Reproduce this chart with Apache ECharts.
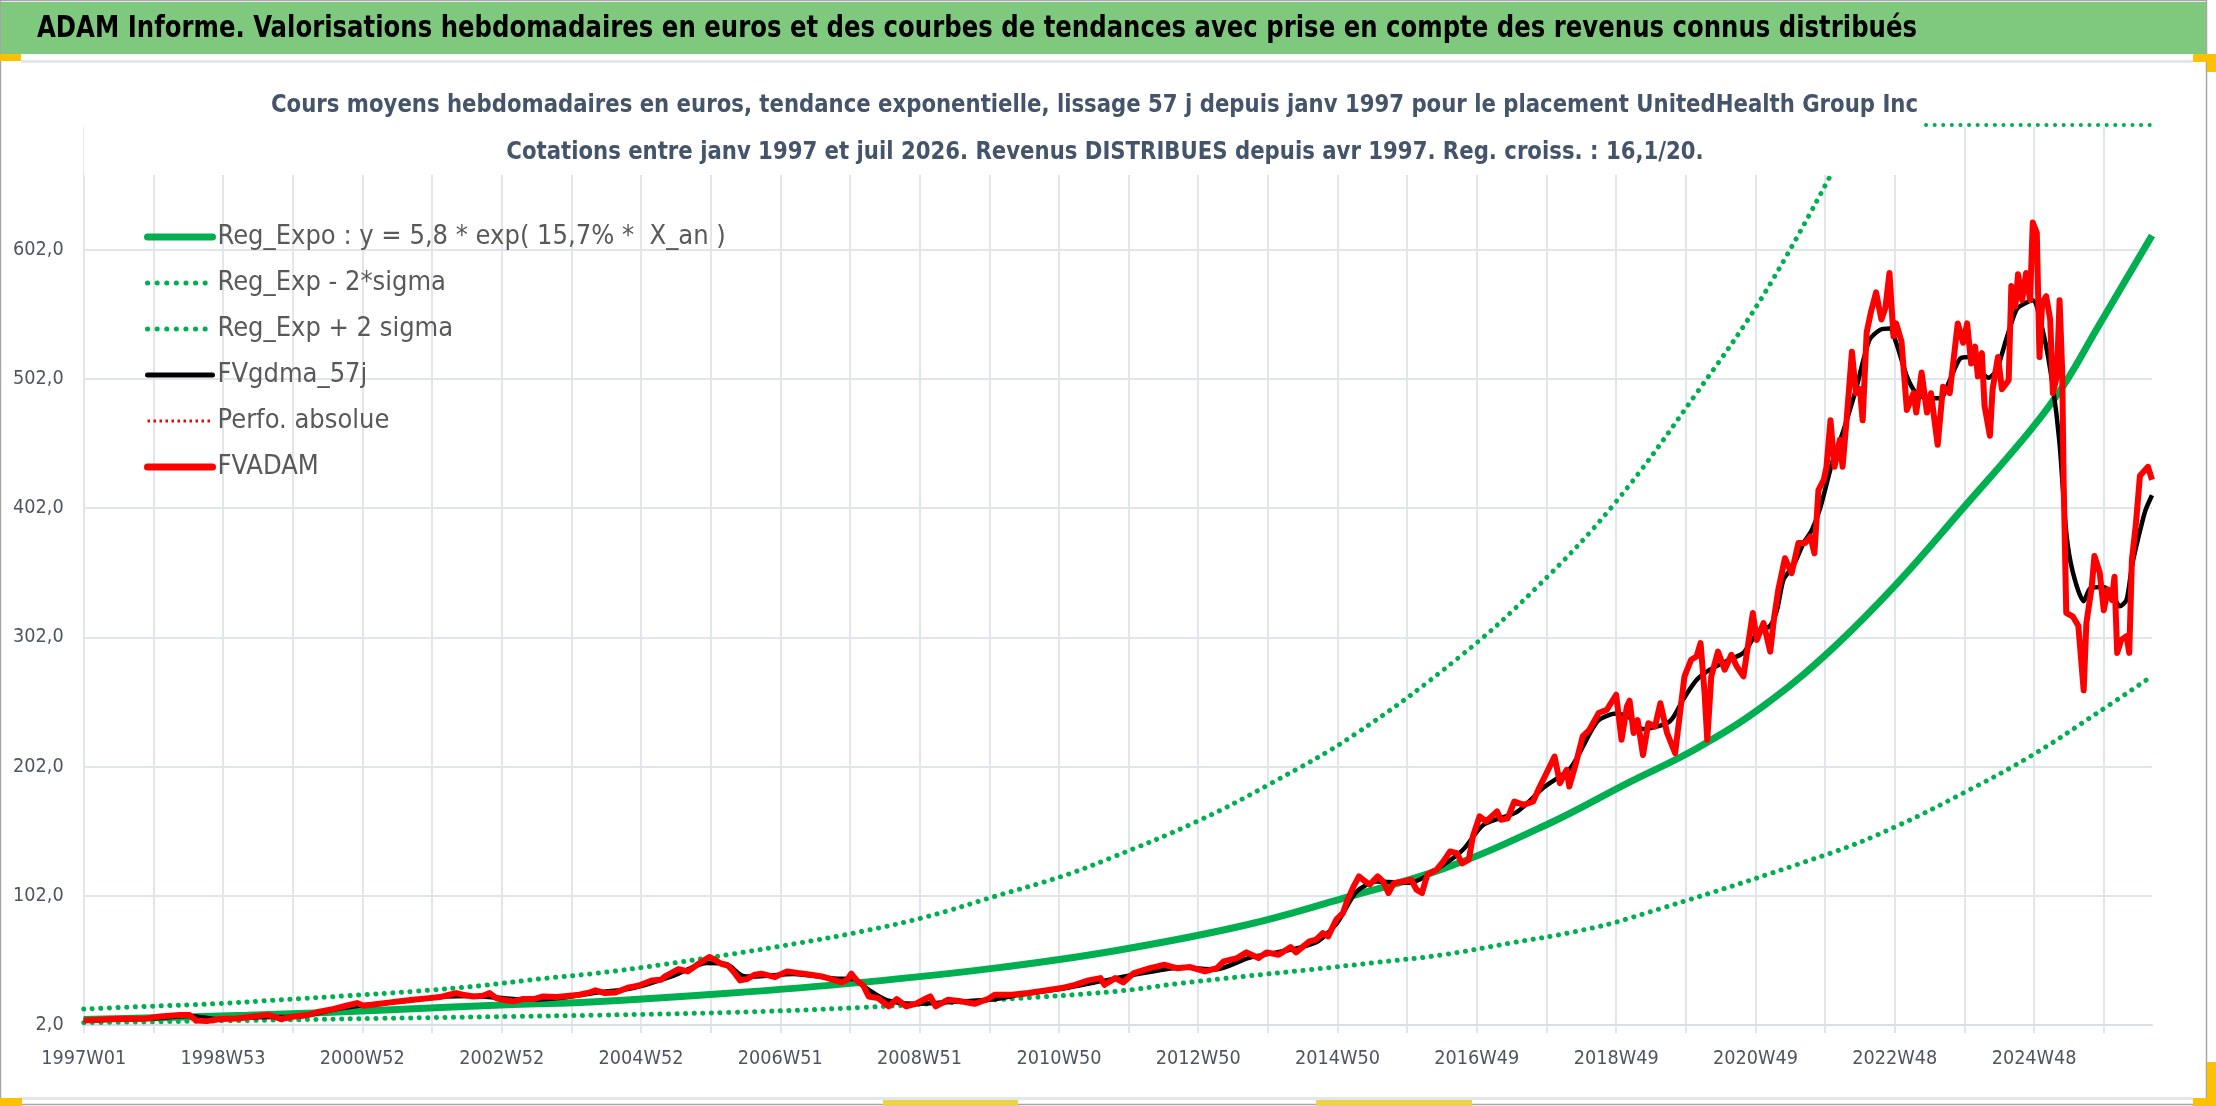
<!DOCTYPE html>
<html><head><meta charset="utf-8">
<script src="https://cdn.jsdelivr.net/npm/echarts@6/dist/echarts.min.js"></script>
<style>html,body{margin:0;padding:0;background:#fff;overflow:hidden}#c{width:2216px;height:1106px}</style>
</head><body><div id="c"></div>
<script>
// ---------- DATA ----------
const FIRST_WEEK_MONDAY = '1996-12-30'; // ISO 1997W01
const WEEK_COUNT = 1545;                // 1997W01 .. 2026W32
const yTicks = {min: 2, max: 697, interval: 100};

const headerTitle = 'ADAM Informe. Valorisations hebdomadaires en euros et des courbes de tendances avec prise en compte des revenus connus distribués';
const subTitle1 = 'Cours moyens hebdomadaires en euros, tendance exponentielle, lissage 57 j depuis janv 1997 pour le placement UnitedHealth Group Inc';
const subTitle2 = 'Cotations entre janv 1997 et juil 2026. Revenus DISTRIBUES depuis avr 1997. Reg. croiss. : 16,1/20.';
const seriesNames = ['Reg_Expo : y = 5,8 * exp( 15,7% *  X_an )', 'Reg_Exp - 2*sigma', 'Reg_Exp + 2 sigma', 'FVgdma_57j', 'Perfo. absolue', 'FVADAM'];

// [week index since 1997W01, value]
const regExpo = [[0,6.2],[122,9.5],[221,13.5],[321,17.8],[382,20.0],[481,26.5],[581,35],[680,46],[770,59.5],[866,79],[940,100],[1015,123],[1090,156],[1154,190],[1204,216],[1254,249],[1304,292],[1353,343],[1403,402],[1453,462],[1478,497],[1503,541],[1544,613]];
const regLow = [[0,3.8],[122,5.5],[221,7.1],[321,8.6],[384,9.6],[481,11.7],[581,15.6],[680,21.5],[770,28.0],[816,33.9],[866,39.6],[915,44.8],[965,50.4],[1015,56.4],[1065,65.4],[1114,74.4],[1154,84.7],[1304,135],[1353,155.7],[1403,181.5],[1453,209.8],[1503,243.4],[1544,272]];
const regHigh = [[0,14.3],[47,16.4],[97,18.4],[147,21.5],[196,24.6],[246,28.0],[296,32.4],[346,38.3],[384,42.2],[431,48.6],[481,56.4],[531,64.9],[581,74.4],[630,86.0],[680,101.5],[730,117],[766,131],[831,159.5],[887,189.4],[949,227],[1026,286],[1083,339],[1142,404.6],[1204,491],[1254,567],[1303,657.5]];
const fvgdma = [[0,5.5],[50,7],[80,9],[100,6.5],[130,8],[160,8.5],[190,14.5],[210,17.5],[240,20.5],[270,24],[290,24.5],[310,23],[330,21.5],[360,23.5],[382,27],[410,30.5],[440,40],[465,50],[480,49],[492,40],[500,39.5],[530,41.5],[560,38],[575,37.5],[585,30],[600,21],[620,18.5],[650,20],[680,22],[700,25.5],[730,30],[760,36],[790,42],[820,46.5],[845,45],[870,54],[900,60],[920,66],[935,80],[950,105],[965,113],[990,112],[1015,126],[1030,138],[1045,157],[1070,167],[1090,186],[1110,201],[1130,237],[1144,243],[1154,240],[1164,231],[1184,237],[1194,254],[1204,269],[1214,277],[1229,285],[1239,290],[1249,305],[1259,311],[1264,323],[1269,347],[1276,357],[1284,375],[1290,385],[1296,401],[1306,440],[1313,460],[1323,494],[1333,532],[1341,540],[1348,541],[1353,530],[1361,504],[1368,491],[1376,487],[1386,487],[1393,501],[1401,518],[1408,519],[1415,509],[1422,503],[1428,509],[1435,532],[1443,556],[1450,561],[1455,563],[1463,537],[1470,496],[1475,452],[1480,383],[1485,352],[1493,330],[1498,340],[1508,341],[1515,334],[1520,326],[1525,331],[1529,357],[1534,380],[1539,400],[1544,412]];
const perfoAbsolue = [];
const fvadam = [[0,5.5],[22,6.6],[47,7.1],[57,8.6],[72,9.7],[79,9.7],[84,5.5],[92,5.0],[102,6.6],[114,7.1],[127,8.6],[137,9.7],[142,8.6],[147,6.6],[157,8.6],[167,9.7],[176,12.3],[186,14.3],[196,16.9],[204,19.0],[209,16.9],[221,18.4],[229,19.5],[236,20.3],[246,21.5],[258,22.8],[266,23.6],[273,25.4],[278,26.7],[283,25.4],[291,24.1],[298,24.6],[303,26.7],[308,22.8],[313,21.5],[321,20.3],[328,22.1],[336,22.1],[343,24.1],[353,23.6],[363,24.6],[370,25.4],[378,27.2],[382,28.8],
[389,26.7],[397,27.2],[407,31.1],[414,32.4],[424,36.5],[431,37.0],[434,39.6],[444,45.3],[451,43.5],[459,49.4],[467,54.6],[471,52.5],[476,49.4],[481,47.9],[485,43.5],[490,36.5],[495,37.5],[501,40.9],[506,41.7],[516,39.1],[525,43.5],[533,42.2],[543,40.9],[551,39.6],[561,36.5],[566,35.0],[570,37.0],[573,41.7],[577,36.5],[582,32.4],[586,24.1],[593,22.8],[601,16.4],[607,22.1],[614,16.4],[621,18.4],[628,22.1],[632,24.1],[636,16.4],[645,21.5],[655,20.3],[665,18.4],[675,22.1],[680,25.4],[693,25.4],[705,26.7],[718,28.8],[730,30.6],[740,33.1],[750,36.5],[759,38.3],[762,33.1],[770,38.3],
[776,35.0],[784,42.2],[796,46.0],[807,48.6],[816,46.0],[826,46.8],[837,43.5],[846,46.0],[851,51.2],[861,53.8],[868,58.2],[877,53.8],[883,58.2],[892,56.4],[901,62.3],[905,58.2],[915,66.7],[920,68.0],[925,73.1],[929,70.6],[935,83.5],[940,88.6],[943,97.7],[948,109.3],[952,117.0],[955,114.4],[960,110.6],[966,117.0],[970,113.1],[974,104.1],[978,111.8],[985,113.1],[991,114.4],[995,106.7],[999,104.1],[1003,118.3],[1010,122.2],[1015,128.6],
[1020,136.3],[1025,135],[1029,127],[1034,129.9],[1037,147.9],[1042,163.4],[1047,159.5],[1055,167.3],[1058,160.8],[1063,162],[1068,175],[1075,172.4],[1082,175],[1087,186.6],[1092,197],[1098,209.8],[1102,189.2],[1107,199.5],[1109,186.6],[1114,204.7],[1119,225.3],[1124,230.5],[1131,243.4],[1137,246],[1144,257.6],[1148,222.7],[1152,248.5],
[1154,253],[1157,228],[1160,238],[1164,211],[1168,235.6],[1173,233],[1177,251],[1182,228],[1188,212.4],[1195,271.8],[1200,284.7],[1204,287.2],[1207,297.6],[1210,258.9],[1212,222.7],[1215,271.8],[1220,291],[1225,277],[1230,288.5],[1234,279.5],[1239,271.8],[1243,300],[1246,320.8],[1249,300],[1254,313],[1259,291],[1262,318],[1265,338.8],[1270,363.3],[1275,351.7],[1280,375],[1285,375],[1289,380],[1292,367],
[1295,416],[1299,424],[1301,434],[1304,470],[1307,434],[1311,455],[1313,434],[1316,470],[1320,523],[1323,491],[1326,494],[1328,470],[1331,538],[1334,553],[1338,569],[1342,548],[1345,557],[1348,584],[1351,535],[1353,545],[1357,531],[1361,478],[1366,491],[1368,476],[1372,507],[1376,476],[1379,491],[1384,451],[1388,496],[1393,491],[1399,545],[1403,530],[1406,545],[1409,514],[1412,527],[1414,504],[1417,522],[1419,481],[1423,458],[1425,494],[1429,519],[1432,494],[1437,501],[1439,574],[1442,558],[1444,583],[1447,563],[1450,584],[1453,563],[1455,623],[1458,615],[1460,519],[1462,561],[1465,566],[1468,548],[1470,491],[1473,504],[1475,563],[1477,507],
[1478,424],[1480,321],[1485,318],[1489,311],[1493,261],[1495,313],[1499,341],[1501,365],[1505,352],[1508,323],[1511,339],[1514,331],[1516,349],[1518,290],[1521,300],[1525,303],[1527,290],[1529,362],[1532,390],[1535,427],[1541,434],[1544,424]];

// ---------- helpers ----------
function isoWeekLabels(startMonday, n) {
  const out = [], t0 = Date.parse(startMonday + 'T00:00:00Z');
  for (let i = 0; i < n; i++) {
    const th = new Date(t0 + (i * 7 + 3) * 86400000);
    const y = th.getUTCFullYear();
    const doy = Math.floor((th - Date.UTC(y, 0, 1)) / 86400000);
    const w = Math.floor(doy / 7) + 1;
    out.push(y + 'W' + (w < 10 ? '0' : '') + w);
  }
  return out;
}
const categories = isoWeekLabels(FIRST_WEEK_MONDAY, WEEK_COUNT);

const ctx = document.createElement('canvas').getContext('2d');
function hasFont(name) {
  const t = 'ADAM Informe 1997W01 abcdefghijklm';
  ctx.font = '40px monospace'; const a = ctx.measureText(t).width;
  ctx.font = '40px "' + name + '", monospace'; const b = ctx.measureText(t).width;
  return Math.abs(a - b) > 0.5;
}
let FAM = 'sans-serif';
for (const f of ['Liberation Sans Narrow', 'DejaVu Sans Condensed', 'Roboto', 'Liberation Sans']) {
  if (hasFont(f)) { FAM = '"' + f + '"'; break; }
}
function widthAt(text, weight, size) {
  ctx.font = weight + ' ' + size + 'px ' + FAM;
  return ctx.measureText(text).width;
}
function fit(text, weight, target) { return 100 * target / widthAt(text, weight, 100); }

const CAP = 0.72;                         // cap-height ratio of the fallback sans fonts
const headerSize = 21.5 / CAP;
const headerScale = 1880 / widthAt(headerTitle, 'bold', headerSize);
const subSize = 17.8 / CAP;
const subScale = 1647 / widthAt(subTitle1, 'bold', subSize);
const legendSize = Math.min(27, fit(seriesNames[0], 'normal', 472) * 1.2);
const axisSize = fit('1997W01', 'normal', 85);

const GREEN = '#00B050', RED = '#FF0000';
const dotted = {type: [0.1, 8.5], cap: 'round', width: 5, color: GREEN};

const chart = echarts.init(document.getElementById('c'), null, {renderer: 'canvas'});
chart.setOption({
  animation: false,
  backgroundColor: '#ffffff',
  grid: {left: 83.7, right: 64, top: 127, bottom: 81},
  legend: {
    orient: 'vertical', left: 144, top: 221, padding: 0,
    itemWidth: 65, itemHeight: 12, itemGap: 14,
    itemStyle: {opacity: 0},
    data: [
      {name: seriesNames[0], lineStyle: {color: GREEN, width: 7, cap: 'round'}},
      {name: seriesNames[1], lineStyle: {color: GREEN, width: 5, type: [0.1, 9.5], cap: 'round'}},
      {name: seriesNames[2], lineStyle: {color: GREEN, width: 5, type: [0.1, 9.5], cap: 'round'}},
      {name: seriesNames[3], lineStyle: {color: '#000000', width: 5, cap: 'round'}},
      {name: seriesNames[4], lineStyle: {color: RED, width: 3, type: [2.5, 3.5]}},
      {name: seriesNames[5], lineStyle: {color: RED, width: 7, cap: 'round'}}
    ],
    textStyle: {fontFamily: FAM, fontSize: legendSize, lineHeight: 32, color: '#595959'}
  },
  xAxis: {
    type: 'category', data: categories, boundaryGap: false,
    axisLine: {show: true, lineStyle: {color: '#D9DDE4', width: 2}},
    axisTick: {show: true, interval: 51, length: 8, lineStyle: {color: '#E1E5EC', width: 2}},
    splitLine: {show: true, interval: 51, lineStyle: {color: '#E1E5EC', width: 2}},
    axisLabel: {interval: 103, margin: 24, color: '#4D5564', fontFamily: FAM, fontSize: axisSize}
  },
  yAxis: {
    type: 'value', min: yTicks.min, max: yTicks.max, interval: yTicks.interval,
    axisLine: {show: false}, axisTick: {show: false},
    splitLine: {show: true, showMaxLine: false, lineStyle: {color: '#E1E5EC', width: 2}},
    axisLabel: {margin: 20, color: '#4D5564', fontFamily: FAM, fontSize: axisSize, showMaxLabel: false,
      formatter: v => v.toFixed(1).replace('.', ',')}
  },
  series: [
    {name: seriesNames[0], type: 'line', data: regExpo, smooth: 0.4, symbol: 'none', lineStyle: {color: GREEN, width: 7}, itemStyle: {color: GREEN}},
    {name: seriesNames[1], type: 'line', data: regLow, smooth: 0.4, symbol: 'none', lineStyle: dotted, itemStyle: {color: GREEN}},
    {name: seriesNames[2], type: 'line', data: regHigh, smooth: 0.4, symbol: 'none', lineStyle: dotted, itemStyle: {color: GREEN}},
    {name: seriesNames[3], type: 'line', data: fvgdma, smooth: 0.25, symbol: 'none', lineStyle: {color: '#000000', width: 4.5}, itemStyle: {color: '#000000'}},
    {name: seriesNames[4], type: 'line', data: perfoAbsolue, symbol: 'none', lineStyle: {color: RED, width: 2.5, type: [2.5, 3]}, itemStyle: {color: RED}},
    {name: seriesNames[5], type: 'line', data: fvadam, symbol: 'none', lineStyle: {color: RED, width: 6, join: 'round'}, itemStyle: {color: RED}}
  ],
  graphic: [
    {type: 'rect', z: 1, shape: {x: 0.5, y: 0.5, width: 2206, height: 1104}, style: {fill: 'none', stroke: '#A6A6A6', lineWidth: 1.5}},
    {type: 'rect', z: 1, shape: {x: 1, y: 2, width: 2205, height: 52}, style: {fill: '#7FC97F'}},
    {type: 'text', z: 2, x: 37, y: 29, scaleX: headerScale,
      style: {text: headerTitle, x: 0, y: 0, font: 'bold ' + headerSize + 'px ' + FAM, fill: '#000000', textAlign: 'left', textVerticalAlign: 'middle', align: 'left', verticalAlign: 'middle'}},
    {type: 'rect', z: 1, shape: {x: 21, y: 60, width: 2172, height: 3}, style: {fill: '#E3E6EA'}},
    {type: 'rect', z: 1, shape: {x: 21, y: 1097, width: 2172, height: 3}, style: {fill: '#E3E6EA'}},
    {type: 'rect', z: 3, shape: {x: 0, y: 54, width: 21, height: 7}, style: {fill: '#FFC000'}},
    {type: 'rect', z: 3, shape: {x: 2193, y: 54, width: 23, height: 8}, style: {fill: '#FFC000'}},
    {type: 'rect', z: 3, shape: {x: 2207, y: 54, width: 9, height: 18}, style: {fill: '#FFC000'}},
    {type: 'rect', z: 3, shape: {x: 2207, y: 1062, width: 9, height: 44}, style: {fill: '#FFC000'}},
    {type: 'rect', z: 3, shape: {x: 2193, y: 1098, width: 23, height: 8}, style: {fill: '#FFC000'}},
    {type: 'rect', z: 3, shape: {x: 0, y: 1098, width: 22, height: 8}, style: {fill: '#FFC000'}},
    {type: 'rect', z: 3, shape: {x: 883, y: 1100, width: 135, height: 6}, style: {fill: '#EBD44A'}},
    {type: 'rect', z: 3, shape: {x: 1316, y: 1100, width: 156, height: 6}, style: {fill: '#EBD44A'}},
    {type: 'rect', z: 50, shape: {x: 84, y: 118, width: 1838, height: 57}, style: {fill: '#ffffff'}},
    {type: 'text', z: 51, x: 1094.5, y: 106, scaleX: subScale,
      style: {text: subTitle1, x: 0, y: 0, font: 'bold ' + subSize + 'px ' + FAM, fill: '#44546A', textAlign: 'center', textVerticalAlign: 'middle', align: 'center', verticalAlign: 'middle'}},
    {type: 'text', z: 51, x: 1105, y: 153, scaleX: subScale,
      style: {text: subTitle2, x: 0, y: 0, font: 'bold ' + subSize + 'px ' + FAM, fill: '#44546A', textAlign: 'center', textVerticalAlign: 'middle', align: 'center', verticalAlign: 'middle'}},
    {type: 'line', z: 51, shape: {x1: 1926, y1: 125, x2: 2152, y2: 125}, style: {stroke: GREEN, lineWidth: 4, lineDash: [0.1, 8.5], lineCap: 'round'}}
  ]
});
</script></body></html>
